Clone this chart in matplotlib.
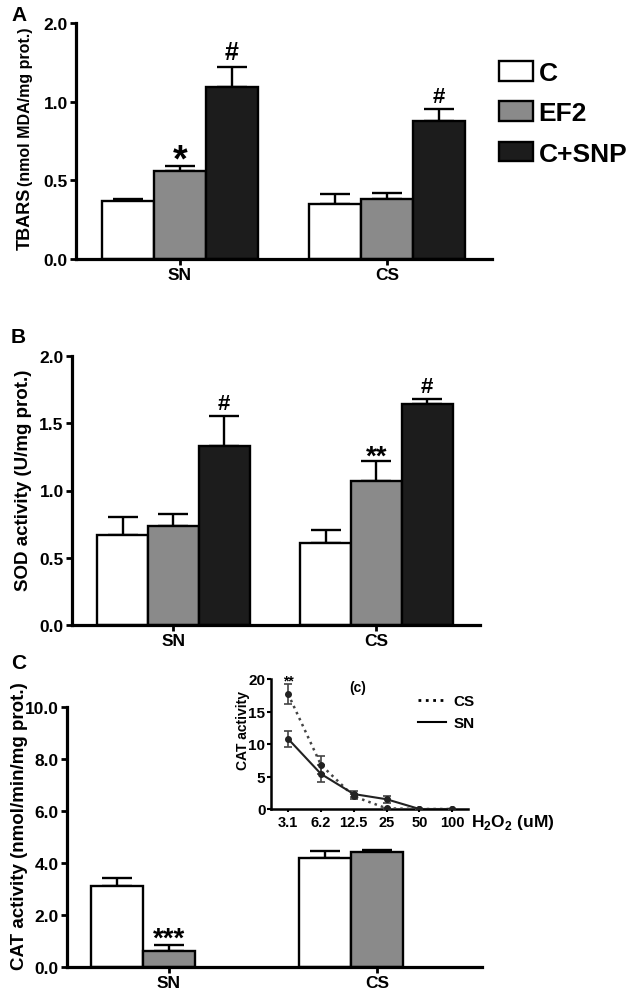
import numpy as np
import matplotlib
matplotlib.use("Agg")
import matplotlib.pyplot as plt
from matplotlib.lines import Line2D

plt.rcParams['font.family'] = ['Liberation Sans', 'DejaVu Sans']
plt.rcParams['font.weight'] = 'bold'
plt.rcParams['mathtext.fontset'] = 'custom'
plt.rcParams['mathtext.rm'] = 'Liberation Sans'
plt.rcParams['mathtext.bf'] = 'Liberation Sans:bold'

# ---------------- data ----------------
groups = ['SN', 'CS']
treatments = ['C', 'EF2', 'C+SNP']
bar_colors = ['white', '#8a8a8a', '#1c1c1c']

# Panel A: TBARS (rows: C, EF2, C+SNP ; cols: SN, CS)
tbars_mean = [[0.37, 0.35], [0.56, 0.38], [1.19, 0.875]]
tbars_err = [[0.01, 0.06], [0.03, 0.04], [0.25, 0.08]]
tbars_ticks = [0.0, 0.5, 1.0, 2.0]
# (treatment index, group index, text, fontsize, offset in points)
tbars_marks = [(1, 0, '*', 27, -3), (2, 0, '#', 18, 6), (2, 1, '#', 16, 5)]

# Panel B: SOD
sod_mean = [[0.67, 0.607], [0.733, 1.072], [1.332, 1.642]]
sod_err = [[0.13, 0.10], [0.09, 0.15], [0.22, 0.04]]
sod_ticks = [0.0, 0.5, 1.0, 1.5, 2.0]
sod_marks = [(2, 0, '#', 16, 5), (1, 1, '**', 20, -2), (2, 1, '#', 16, 5)]

# Panel C: CAT (rows: C, EF2)
cat_mean = [[3.13, 4.19], [0.63, 4.41]]
cat_err = [[0.29, 0.26], [0.23, 0.10]]
cat_ticks = [0.0, 2.0, 4.0, 6.0, 8.0, 10.0]
cat_marks = [(1, 0, '***', 20, -1)]

# Inset: CAT activity vs H2O2
conc_labels = ['3.1', '6.2', '12.5', '25', '50', '100']
inset_cs = [17.7, 6.8, 1.95, 0.1, 0.0, 0.0]
inset_cs_err = [1.5, 1.4, 0.4, 0.1, 0.0, 0.0]
inset_sn = [10.8, 5.4, 2.3, 1.5, 0.0, 0.0]
inset_sn_err = [1.2, 1.3, 0.5, 0.5, 0.0, 0.0]
inset_ticks = [0, 5, 10, 15, 20]

# ---------------- figure ----------------
W, H = 630, 995
fig = plt.figure(figsize=(W / 100, H / 100), dpi=100)


def px_axes(left, top, right, bottom):
    return fig.add_axes([left / W, 1 - bottom / H, (right - left) / W, (bottom - top) / H])


def fx(x):
    return x / W


def fy(y):
    return 1 - y / H


SPINE_LW = 2.3
BAR_LW = 1.7
TICK_FS = 12.5


def style_axes(ax):
    for s in ['top', 'right']:
        ax.spines[s].set_visible(False)
    for s in ['left', 'bottom']:
        ax.spines[s].set_linewidth(SPINE_LW)
    ax.tick_params(axis='both', direction='out', length=4, width=2, labelsize=TICK_FS, pad=2)


def bar_panel(ax, means, errs, offsets, width, marks):
    x = np.arange(len(groups))
    handles = []
    for i, (m, e) in enumerate(zip(means, errs)):
        xs = x + offsets[i]
        b = ax.bar(xs, m, width, color=bar_colors[i], edgecolor='black', linewidth=BAR_LW,
                   label=treatments[i], zorder=2)
        handles.append(b)
        ax.errorbar(xs, m, yerr=[np.zeros(len(m)), e], fmt='none', ecolor='black',
                    elinewidth=BAR_LW, capsize=11, capthick=BAR_LW, zorder=1)
    for (ti, gi, s, fs, off) in marks:
        top = means[ti][gi] + errs[ti][gi]
        ax.annotate(s, xy=(x[gi] + offsets[ti], top), xytext=(0, off), textcoords='offset points',
                    ha='center', va='baseline', fontsize=fs, fontweight='bold')
    ax.set_xticks(x)
    ax.set_xticklabels(groups)
    return handles


# ---- Panel A ----
def fwd(v):
    v = np.asarray(v, dtype=float)
    return np.where(v <= 1, v, 1 + (v - 1) / 2)


def inv(v):
    v = np.asarray(v, dtype=float)
    return np.where(v <= 1, v, 1 + 2 * (v - 1))


axA = px_axes(76, 24, 492, 260)
style_axes(axA)
axA.set_yscale('function', functions=(fwd, inv))
hA = bar_panel(axA, tbars_mean, tbars_err, [-0.25, 0, 0.25], 0.25, tbars_marks)
axA.set_xlim(-0.502, 1.507)
axA.set_ylim(0, 2.0)
axA.set_yticks(tbars_ticks)
axA.set_yticklabels([f'{t:.1f}' for t in tbars_ticks])
axA.yaxis.set_minor_locator(matplotlib.ticker.NullLocator())

fig.text(fx(30), fy(250), 'TBARS', rotation=90, rotation_mode='anchor', ha='left',
         va='baseline', fontsize=13, fontweight='bold')
fig.text(fx(30), fy(186), '(nmol MDA/mg prot.)', rotation=90, rotation_mode='anchor',
         ha='left', va='baseline', fontsize=11.5, fontweight='bold')

leg = axA.legend(handles=hA, labels=treatments, loc='upper left',
                 bbox_to_anchor=(fx(499), fy(62)), bbox_transform=fig.transFigure,
                 frameon=False, fontsize=19, handlelength=1.3, handleheight=0.76,
                 handletextpad=0.2, labelspacing=0.62, borderpad=0, borderaxespad=0)
for t in leg.get_texts():
    t.set_fontweight('bold')

# ---- Panel B ----
axB = px_axes(72, 357, 480, 626)
style_axes(axB)
bar_panel(axB, sod_mean, sod_err, [-0.25, 0, 0.25], 0.25, sod_marks)
axB.set_xlim(-0.5, 1.51)
axB.set_ylim(0, 2.0)
axB.set_yticks(sod_ticks)
axB.set_yticklabels([f'{t:.1f}' for t in sod_ticks])
fig.text(fx(28), fy(480), 'SOD activity (U/mg prot.)', rotation=90, rotation_mode='anchor',
         ha='center', va='baseline', fontsize=13.5, fontweight='bold')

# ---- Panel C ----
axC = px_axes(67, 708, 482, 968)
style_axes(axC)
bar_panel(axC, cat_mean, cat_err, [-0.25, 0], 0.25, cat_marks)
axC.set_xlim(-0.49, 1.505)
axC.set_ylim(0, 10.0)
axC.set_yticks(cat_ticks)
axC.set_yticklabels([f'{t:.1f}' for t in cat_ticks])
fig.text(fx(24), fy(826), 'CAT activity (nmol/min/mg prot.)', rotation=90, rotation_mode='anchor',
         ha='center', va='baseline', fontsize=13.5, fontweight='bold')

# ---- panel letters ----
for letter, yb in [('A', 21), ('B', 343), ('C', 669)]:
    fig.text(fx(11), fy(yb), letter, ha='left', va='baseline', fontsize=15, fontweight='bold')

# ---- Inset ----
axI = px_axes(271, 680, 468, 810)
axI.set_facecolor('none')
for s in ['top', 'right']:
    axI.spines[s].set_visible(False)
for s in ['left', 'bottom']:
    axI.spines[s].set_linewidth(1.8)
xi = np.arange(len(conc_labels))
axI.errorbar(xi, inset_cs, yerr=inset_cs_err, fmt='o', ls=':', color='#444444', lw=1.8,
             ms=4, mfc='#222222', mec='#222222', ecolor='#444444', elinewidth=1.2,
             capsize=3, capthick=1.2, zorder=3)
axI.errorbar(xi, inset_sn, yerr=inset_sn_err, fmt='o', ls='-', color='#222222', lw=1.5,
             ms=4, mfc='#222222', mec='#222222', ecolor='#444444', elinewidth=1.2,
             capsize=3, capthick=1.2, zorder=3)
axI.set_xlim(-0.52, 5.48)
axI.set_ylim(0, 20)
axI.set_yticks(inset_ticks)
axI.set_xticks(xi)
axI.set_xticklabels(conc_labels)
axI.tick_params(axis='y', direction='out', length=3, width=1.5, labelsize=11, pad=1)
axI.tick_params(axis='x', direction='out', length=2.5, width=1.5, labelsize=10.5, pad=2)
axI.annotate('**', xy=(0, inset_cs[0] + inset_cs_err[0]), xytext=(0, 0),
             textcoords='offset points', ha='center', va='baseline', fontsize=10,
             fontweight='bold')
fig.text(fx(247), fy(731), 'CAT activity', rotation=90, rotation_mode='anchor',
         ha='center', va='baseline', fontsize=10, fontweight='bold')
fig.text(fx(358), fy(688), '(c)', ha='center', va='center', fontsize=10, fontweight='bold')
fig.text(fx(471), fy(823), r'H$_{\mathbf{2}}$O$_{\mathbf{2}}$ (uM)', ha='left', va='center',
         fontsize=12.5, fontweight='bold')

legI = axI.legend(handles=[Line2D([], [], ls=':', color='black', lw=2),
                           Line2D([], [], ls='-', color='black', lw=1.5)],
                  labels=['CS', 'SN'], loc='upper left',
                  bbox_to_anchor=(fx(418), fy(695)), bbox_transform=fig.transFigure,
                  frameon=False, fontsize=11, handlelength=1.8, handletextpad=0.5,
                  labelspacing=0.55, borderpad=0, borderaxespad=0)
for t in legI.get_texts():
    t.set_fontweight('bold')

fig.savefig('out.png', dpi=100)
